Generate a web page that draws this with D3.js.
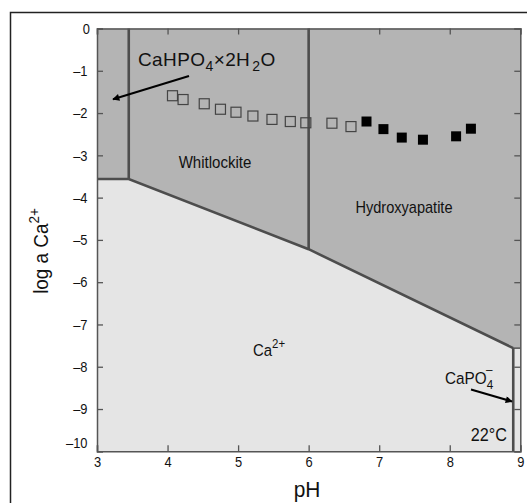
<!DOCTYPE html>
<html><head><meta charset="utf-8">
<script src="https://cdn.jsdelivr.net/npm/d3@7"></script>
<style>body{margin:0;background:#fff}svg{display:block;font-family:"Liberation Sans",Arial,sans-serif}</style>
</head><body><div id="chart"></div>
<script>
// Data
const openPH  = [4.07, 4.22, 4.52, 4.75, 4.97, 5.21, 5.48, 5.74, 5.96, 6.33, 6.60];
const openLog = [-1.59,-1.68,-1.78,-1.91,-1.98,-2.07,-2.15,-2.20,-2.23,-2.24,-2.32];
const filledPH  = [6.82, 7.06, 7.32, 7.62, 8.09, 8.30];
const filledLog = [-2.20,-2.38,-2.58,-2.63,-2.55,-2.37];
const xTicks = [3,4,5,6,7,8,9];
const yTicks = [0,-1,-2,-3,-4,-5,-6,-7,-8,-9,-10];
// phase boundary (pH, log a Ca2+)
const boundaryPH  = [3.0, 3.45, 6.0, 8.9];
const boundaryLog = [-3.56, -3.56, -5.22, -7.56];
const verticalPH   = [3.45, 6.0, 8.9];
const verticalTop  = [0, 0, -7.56];
const verticalBot  = [-3.56, -5.22, -10];

const W = 527, H = 503;
const FONT = '"Liberation Sans",Arial,sans-serif';
const svg = d3.select("#chart").append("svg").attr("width", W).attr("height", H);
const x = d3.scaleLinear().domain([3, 9]).range([97, 520.3]);
const y = d3.scaleLinear().domain([0, -10]).range([28.5, 451.3]);

// outer frame
svg.append("rect").attr("x", 10.5).attr("y", 12.5).attr("width", 700).attr("height", 700)
  .attr("fill", "none").attr("stroke", "#222").attr("stroke-width", 1.5);

// light region (whole plot)
svg.append("rect").attr("x", x(3)).attr("y", y(0)).attr("width", x(9)-x(3)).attr("height", y(-10)-y(0))
  .attr("fill", "#e5e5e5");

// dark region
const darkPts = [[3,0],[9,0],[9,-7.56]];
const bnd = boundaryPH.map((p,i)=>[p, boundaryLog[i]]);
const poly = darkPts.concat(bnd.slice().reverse());
svg.append("path").attr("d", d3.line().x(d=>x(d[0])).y(d=>y(d[1]))(poly) + "Z")
  .attr("fill", "#b4b4b4");

// short horizontal at right
svg.append("line").attr("x1", x(8.9)).attr("x2", x(9)).attr("y1", y(-7.56)).attr("y2", y(-7.56))
  .attr("stroke", "#555").attr("stroke-width", 1.5);

// boundary lines
svg.append("path").attr("d", d3.line().x(d=>x(d[0])).y(d=>y(d[1]))(bnd))
  .attr("fill", "none").attr("stroke", "#4d4d4d").attr("stroke-width", 2.6);
verticalPH.forEach((p,i)=>{
  svg.append("line").attr("x1", x(p)).attr("x2", x(p)).attr("y1", y(verticalTop[i])).attr("y2", y(verticalBot[i]))
    .attr("stroke", "#4d4d4d").attr("stroke-width", 2.6);
});

// axes (inward ticks)
const fmt = d => d < 0 ? "\u2013" + Math.abs(d) : String(d);
const axL = svg.append("g").attr("transform", `translate(${x(3)},0)`)
  .call(d3.axisLeft(y).tickValues(yTicks).tickSize(-6).tickPadding(9.5).tickFormat(fmt));
const axR = svg.append("g").attr("transform", `translate(${x(9)},0)`)
  .call(d3.axisRight(y).tickValues(yTicks).tickSize(-6).tickFormat(""));
const axB = svg.append("g").attr("transform", `translate(0,${y(-10)})`)
  .call(d3.axisBottom(x).tickValues(xTicks).tickSize(-6).tickPadding(5.5).tickFormat(d3.format("d")));
const axT = svg.append("g").attr("transform", `translate(0,${y(0)})`)
  .call(d3.axisTop(x).tickValues(xTicks).tickSize(-6).tickFormat(""));
[axL, axR, axB, axT].forEach(g => {
  g.select(".domain").attr("stroke", "#555").attr("stroke-width", 1.5);
  g.selectAll(".tick line").attr("stroke", "#555").attr("stroke-width", 1.3);
  g.selectAll("text").attr("font-size", 15).attr("fill", "#111").attr("font-family", FONT);
});
axL.selectAll(".tick text").filter(d => d === -10).attr("dy", "-0.28em");
axL.selectAll(".tick text").filter(d => d === 0).attr("x", -7);
// condense tick labels horizontally
[axL, axB].forEach(g => g.selectAll(".tick text").each(function(){
  const t = d3.select(this); const xv = +t.attr("x") || 0;
  t.attr("x", 0).attr("transform", `translate(${xv},0) scale(0.86,1)`);
}));

// data markers
const s = 10;
svg.append("g").selectAll("rect").data(openPH.map((p,i)=>[p, openLog[i]])).join("rect")
  .attr("x", d => x(d[0]) - s/2).attr("y", d => y(d[1]) - s/2).attr("width", s).attr("height", s)
  .attr("fill", "none").attr("stroke", "#444").attr("stroke-width", 1.2);
svg.append("g").selectAll("rect").data(filledPH.map((p,i)=>[p, filledLog[i]])).join("rect")
  .attr("x", d => x(d[0]) - s/2).attr("y", d => y(d[1]) - s/2).attr("width", s).attr("height", s)
  .attr("fill", "#000");

// arrows
const defs = svg.append("defs");
defs.append("marker").attr("id", "ah").attr("viewBox", "0 0 10 10").attr("refX", 9).attr("refY", 5)
  .attr("markerWidth", 10).attr("markerHeight", 7).attr("markerUnits", "userSpaceOnUse").attr("orient", "auto")
  .append("path").attr("d", "M0,0 L10,5 L0,10 Z").attr("fill", "#000");
svg.append("line").attr("x1", 189).attr("y1", 76).attr("x2", 113).attr("y2", 99.3)
  .attr("stroke", "#000").attr("stroke-width", 2).attr("marker-end", "url(#ah)");
svg.append("line").attr("x1", 471).attr("y1", 389.5).attr("x2", 512).attr("y2", 401.5)
  .attr("stroke", "#000").attr("stroke-width", 2).attr("marker-end", "url(#ah)");

// labels (sx = horizontal condensing)
const lab = (tx, ty, size, anchor, sx) => svg.append("text")
  .attr("transform", `translate(${tx},${ty}) scale(${sx || 1},1)`)
  .attr("font-size", size).attr("text-anchor", anchor || "start").attr("fill", "#111").attr("font-family", FONT);
const t1 = lab(138, 66, 19, "start", 1).attr("letter-spacing", 0.4);
t1.append("tspan").text("CaHPO");
t1.append("tspan").attr("font-size", 14).attr("dy", 5).text("4");
t1.append("tspan").attr("dy", -5).text("\u00d72H");
t1.append("tspan").attr("font-size", 14).attr("dx", 2).attr("dy", 5).text("2");
t1.append("tspan").attr("dy", -5).text("O");
lab(215, 168, 16, "middle", 0.94).text("Whitlockite");
lab(404, 213, 16, "middle", 0.91).text("Hydroxyapatite");
const t2 = lab(253, 356, 17, "start", 0.88);
t2.append("tspan").text("Ca");
t2.append("tspan").attr("font-size", 13).attr("dy", -8).text("2+");
const t3 = lab(445, 384, 17, "start", 0.9);
t3.append("tspan").text("CaPO");
t3.append("tspan").attr("font-size", 13).attr("dy", 5).text("4");
t3.append("tspan").attr("font-size", 13).attr("dx", -8).attr("dy", -15).text("\u2013");
lab(507, 441, 18, "end", 0.9).text("22\u00b0C");
// axis titles
lab(307, 497, 22, "middle", 0.95).text("pH");
const yl = svg.append("text").attr("transform", "translate(48,251) rotate(-90) scale(0.9,1)")
  .attr("text-anchor", "middle").attr("font-size", 21).attr("fill", "#111").attr("font-family", FONT);
yl.append("tspan").text("log a Ca");
yl.append("tspan").attr("font-size", 15).attr("dy", -9).text("2+");
</script></body></html>
